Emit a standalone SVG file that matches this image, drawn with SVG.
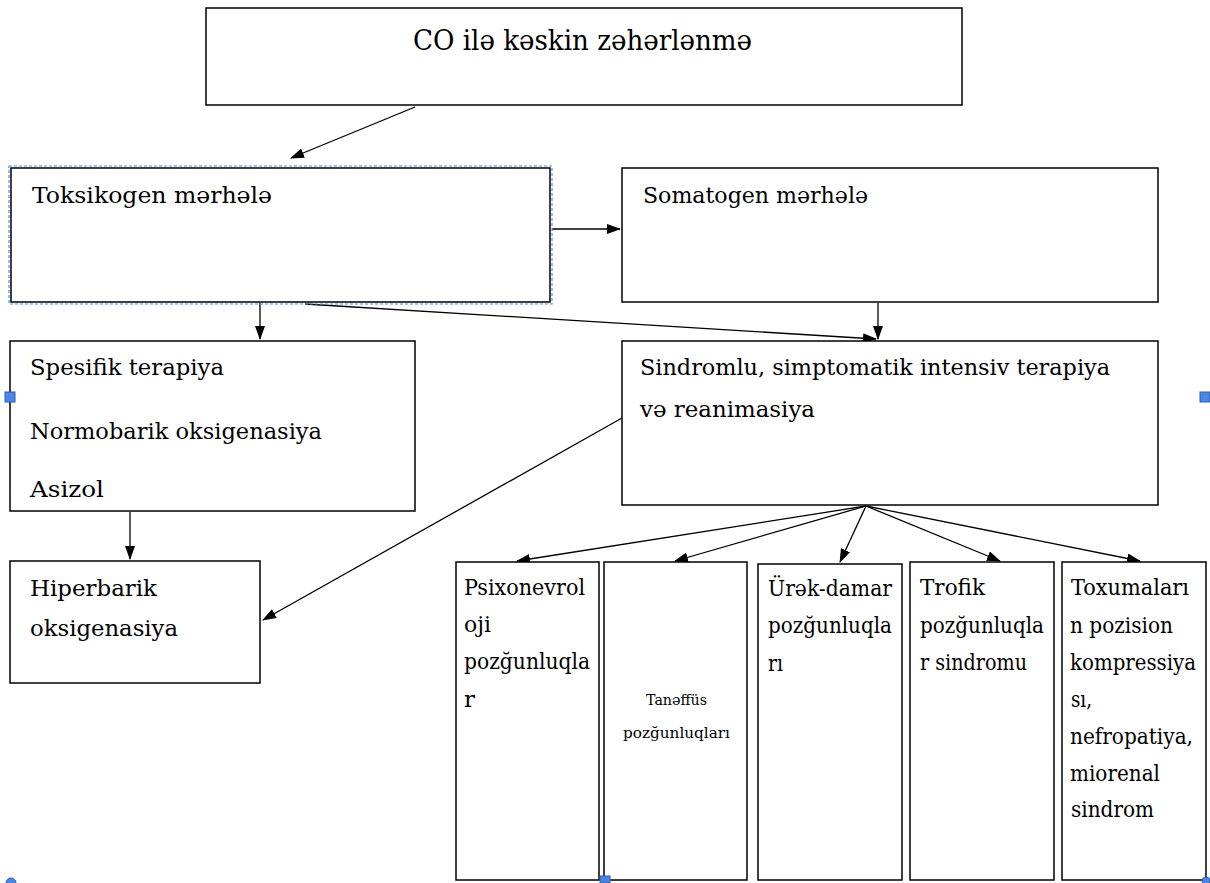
<svg xmlns="http://www.w3.org/2000/svg" width="1210" height="883" viewBox="0 0 1210 883">
<style>
.box{fill:#fff;stroke:#000;stroke-width:1.5}
.t{font-family:"DejaVu Serif","Liberation Serif",serif;font-size:23px;fill:#000}
.big{font-size:27px}
.sm{font-size:15px}
.c{stroke:#000;stroke-width:1.3;fill:none}
.h{fill:#4a86e8;stroke:#2f5fb0;stroke-width:1}
</style>
<defs>
<marker id="ah" markerWidth="14" markerHeight="10" refX="13" refY="5" orient="auto" markerUnits="userSpaceOnUse">
<path d="M0,0 L14,5 L0,10 Z" fill="#000"/>
</marker>
</defs>
<rect width="1210" height="883" fill="#fff"/>

<g id="connectors">
<line class="c" x1="415" y1="107" x2="291" y2="158" marker-end="url(#ah)"/>
<line class="c" x1="552" y1="229" x2="620" y2="229" marker-end="url(#ah)"/>
<line class="c" x1="260" y1="303" x2="260" y2="339" marker-end="url(#ah)"/>
<line class="c" x1="305" y1="304" x2="876" y2="339" marker-end="url(#ah)"/>
<line class="c" x1="878" y1="303" x2="878" y2="339" marker-end="url(#ah)"/>
<line class="c" x1="130" y1="512" x2="130" y2="559" marker-end="url(#ah)"/>
<line class="c" x1="622" y1="418" x2="263" y2="620" marker-end="url(#ah)"/>
<line class="c" x1="866" y1="506" x2="517" y2="561" marker-end="url(#ah)"/>
<line class="c" x1="866" y1="506" x2="675" y2="561" marker-end="url(#ah)"/>
<line class="c" x1="866" y1="506" x2="840" y2="562" marker-end="url(#ah)"/>
<line class="c" x1="866" y1="506" x2="1000" y2="561" marker-end="url(#ah)"/>
<line class="c" x1="866" y1="506" x2="1140" y2="561" marker-end="url(#ah)"/>
</g>

<g id="n-top">
<rect class="box" x="206" y="8" width="756" height="97"/>
<text class="t big" x="413" y="50" textLength="339" lengthAdjust="spacingAndGlyphs">CO ilə kəskin zəhərlənmə</text>
</g>

<g id="n-toksikogen">
<rect class="box" x="11" y="168" width="539" height="134"/>
<rect x="9" y="166" width="543" height="138" fill="none" stroke="#4f8fe0" stroke-width="1.2" stroke-dasharray="3,2"/>
<text class="t" x="32" y="203" textLength="240" lengthAdjust="spacingAndGlyphs">Toksikogen mərhələ</text>
</g>

<g id="n-somatogen">
<rect class="box" x="622" y="168" width="536" height="134"/>
<text class="t" x="643" y="203" textLength="225" lengthAdjust="spacingAndGlyphs">Somatogen mərhələ</text>
</g>

<g id="n-spesifik">
<rect class="box" x="10" y="341" width="405" height="170"/>
<text class="t" x="30" y="375" textLength="194" lengthAdjust="spacingAndGlyphs">Spesifik terapiya</text>
<text class="t" x="30" y="439" textLength="292" lengthAdjust="spacingAndGlyphs">Normobarik oksigenasiya</text>
<text class="t" x="30" y="497" textLength="74" lengthAdjust="spacingAndGlyphs">Asizol</text>
</g>

<g id="n-sindromlu">
<rect class="box" x="622" y="341" width="536" height="164"/>
<text class="t" x="640" y="375" textLength="470" lengthAdjust="spacingAndGlyphs">Sindromlu, simptomatik intensiv terapiya</text>
<text class="t" x="640" y="417" textLength="175" lengthAdjust="spacingAndGlyphs">və reanimasiya</text>
</g>

<g id="n-hiperbarik">
<rect class="box" x="10" y="561" width="250" height="122"/>
<text class="t" x="30" y="596" textLength="127" lengthAdjust="spacingAndGlyphs">Hiperbarik</text>
<text class="t" x="30" y="636" textLength="148" lengthAdjust="spacingAndGlyphs">oksigenasiya</text>
</g>

<g id="n-psixo">
<rect class="box" x="456" y="562" width="143" height="318"/>
<text class="t" x="464" y="595" textLength="121" lengthAdjust="spacingAndGlyphs">Psixonevrol</text>
<text class="t" x="464" y="632" textLength="27" lengthAdjust="spacingAndGlyphs">oji</text>
<text class="t" x="464" y="669" textLength="126" lengthAdjust="spacingAndGlyphs">pozğunluqla</text>
<text class="t" x="464" y="707">r</text>
</g>

<g id="n-tenefus">
<rect class="box" x="604" y="562" width="143" height="318"/>
<text class="t sm" x="646" y="705" textLength="61" lengthAdjust="spacingAndGlyphs">Tanəffüs</text>
<text class="t sm" x="623" y="738" textLength="107" lengthAdjust="spacingAndGlyphs">pozğunluqları</text>
</g>

<g id="n-urek">
<rect class="box" x="758" y="564" width="144" height="316"/>
<text class="t" x="768" y="596" textLength="124" lengthAdjust="spacingAndGlyphs">Ürək-damar</text>
<text class="t" x="768" y="633" textLength="124" lengthAdjust="spacingAndGlyphs">pozğunluqla</text>
<text class="t" x="768" y="671" textLength="15" lengthAdjust="spacingAndGlyphs">rı</text>
</g>

<g id="n-trofik">
<rect class="box" x="910" y="562" width="144" height="318"/>
<text class="t" x="920" y="595" textLength="65" lengthAdjust="spacingAndGlyphs">Trofik</text>
<text class="t" x="920" y="633" textLength="124" lengthAdjust="spacingAndGlyphs">pozğunluqla</text>
<text class="t" x="920" y="670" textLength="107" lengthAdjust="spacingAndGlyphs">r sindromu</text>
</g>

<g id="n-toxuma">
<rect class="box" x="1062" y="562" width="144" height="318"/>
<text class="t" x="1071" y="595" textLength="118" lengthAdjust="spacingAndGlyphs">Toxumaları</text>
<text class="t" x="1070" y="633" textLength="103" lengthAdjust="spacingAndGlyphs">n pozision</text>
<text class="t" x="1070" y="670" textLength="126" lengthAdjust="spacingAndGlyphs">kompressiya</text>
<text class="t" x="1071" y="707" textLength="21" lengthAdjust="spacingAndGlyphs">sı,</text>
<text class="t" x="1070" y="744" textLength="123" lengthAdjust="spacingAndGlyphs">nefropatiya,</text>
<text class="t" x="1070" y="781" textLength="90" lengthAdjust="spacingAndGlyphs">miorenal</text>
<text class="t" x="1071" y="817" textLength="83" lengthAdjust="spacingAndGlyphs">sindrom</text>
</g>

<g id="handles">
<rect class="h" x="5" y="392" width="10" height="10"/>
<rect class="h" x="1200" y="392" width="10" height="10"/>
<rect class="h" x="600" y="876" width="10" height="7"/>
<circle class="h" cx="11" cy="883" r="5"/>
<circle class="h" cx="1206" cy="881" r="4"/>
</g>
</svg>
